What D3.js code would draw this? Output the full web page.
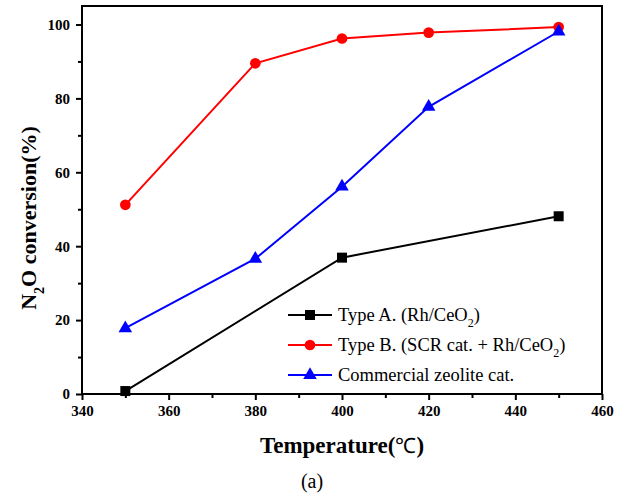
<!DOCTYPE html>
<html lang="en">
  <head>
    <style>
      html, body { margin: 0; padding: 0; background: #fff; }
      svg { display: block; }
    </style>
    <script src="https://d3js.org/d3.v7.min.js"></script>
  </head>
  <body>
    <svg width="629" height="496" font-family="Liberation Serif, Times New Roman, serif"></svg>
    <script>
      var temps = [350, 380, 400, 420, 450];
      var typeA = [[350, 0.8], [400, 36.9], [450, 48.1]];
      var typeB = [51.2, 89.5, 96.2, 97.8, 99.3];
      var zeolite = [17.8, 36.6, 56.1, 77.7, 98.1];
      var xTicks = [340, 360, 380, 400, 420, 440, 460];
      var yTicks = [0, 20, 40, 60, 80, 100];

      var serif = 'Liberation Serif, Times New Roman, serif';
      var svg = d3.select('svg'),
        margin = {left: 82, right: 27, top: 6, bottom: 102},
        width = +svg.attr('width') - margin.left - margin.right,
        height = +svg.attr('height') - margin.top - margin.bottom;

      var x = d3.scaleLinear().domain([340, 460]).range([0, width]);
      var y = d3.scaleLinear().domain([0, 105]).range([height, 0]);

      var g = svg.append('g')
        .attr('transform', 'translate(' + margin.left + ',' + margin.top + ')');

      // frame
      g.append('rect')
        .attr('width', width).attr('height', height)
        .attr('fill', 'none').attr('stroke', '#000').attr('stroke-width', 2);

      // minor ticks
      g.append('g')
        .attr('transform', 'translate(0,' + height + ')')
        .call(d3.axisBottom(x).tickValues(d3.range(350, 460, 20)).tickSize(4).tickFormat(''))
        .call(function(s) { s.select('.domain').remove(); s.selectAll('line').attr('stroke-width', 2); });
      g.append('g')
        .call(d3.axisLeft(y).tickValues(d3.range(10, 105, 20)).tickSize(4).tickFormat(''))
        .call(function(s) { s.select('.domain').remove(); s.selectAll('line').attr('stroke-width', 2); });

      function styleAxis(s) {
        s.attr('font-family', serif).attr('font-size', 15).attr('font-weight', 'bold');
        s.select('.domain').remove();
        s.selectAll('line').attr('stroke-width', 2);
        s.selectAll('text').attr('fill', '#000');
      }

      // major axes
      g.append('g')
        .attr('transform', 'translate(0,' + height + ')')
        .call(d3.axisBottom(x).tickValues(xTicks).tickSize(6).tickPadding(5))
        .call(styleAxis);
      g.append('g')
        .call(d3.axisLeft(y).tickValues(yTicks).tickSize(6).tickPadding(6))
        .call(styleAxis);

      var line = d3.line().x(function(d) { return x(d[0]); }).y(function(d) { return y(d[1]); });

      var series = [
        {color: '#000', data: typeA, shape: d3.symbolSquare, size: 100},
        {color: '#ff0000', data: temps.map(function(t, i) { return [t, typeB[i]]; }), shape: d3.symbolCircle, size: 90},
        {color: '#0000ff', data: temps.map(function(t, i) { return [t, zeolite[i]]; }), shape: d3.symbolTriangle, size: 80}
      ];

      series.forEach(function(s) {
        g.append('path').datum(s.data)
          .attr('d', line).attr('fill', 'none')
          .attr('stroke', s.color).attr('stroke-width', 2);
        g.selectAll(null).data(s.data).enter().append('path')
          .attr('d', d3.symbol().type(s.shape).size(s.size))
          .attr('transform', function(d) { return 'translate(' + x(d[0]) + ',' + y(d[1]) + ')'; })
          .attr('fill', s.color);
      });

      // legend
      var legend = svg.append('g').attr('transform', 'translate(288,315)');
      var legendRows = [
        ['Type A. (Rh/CeO', '2', ')'],
        ['Type B. (SCR cat. + Rh/CeO', '2', ')'],
        ['Commercial zeolite cat.', '', '']
      ];
      legendRows.forEach(function(r, i) {
        var s = series[i];
        var row = legend.append('g').attr('transform', 'translate(0,' + i * 30 + ')');
        row.append('line').attr('x1', 0).attr('x2', 44).attr('stroke', s.color).attr('stroke-width', 2);
        row.append('path').attr('transform', 'translate(22,0)')
          .attr('d', d3.symbol().type(s.shape).size(s.size)).attr('fill', s.color);
        var t = row.append('text').attr('x', 50).attr('y', 6).attr('font-size', 18.5).attr('fill', '#000');
        t.append('tspan').text(r[0]);
        if (r[1]) {
          t.append('tspan').attr('dy', 6).attr('font-size', 12).text(r[1]);
          t.append('tspan').attr('dy', -6).text(r[2]);
        }
      });

      // x title
      var xt = svg.append('text')
        .attr('x', margin.left + width / 2).attr('y', 453)
        .attr('text-anchor', 'middle').attr('font-size', 23).attr('font-weight', 'bold');
      xt.append('tspan').text('Temperature(');
      xt.append('tspan').attr('font-weight', 'normal').attr('font-size', 21).text('℃');
      xt.append('tspan').text(')');

      // y title
      var yt = svg.append('text')
        .attr('transform', 'translate(36,218) rotate(-90)')
        .attr('text-anchor', 'middle').attr('font-size', 22).attr('font-weight', 'bold');
      yt.append('tspan').text('N');
      yt.append('tspan').attr('dy', 8).attr('font-size', 14).text('2');
      yt.append('tspan').attr('dy', -8).text('O conversion(%)');

      svg.append('text')
        .attr('x', 312).attr('y', 488).attr('text-anchor', 'middle')
        .attr('font-size', 20).text('(a)');
    </script>
  </body>
</html>
